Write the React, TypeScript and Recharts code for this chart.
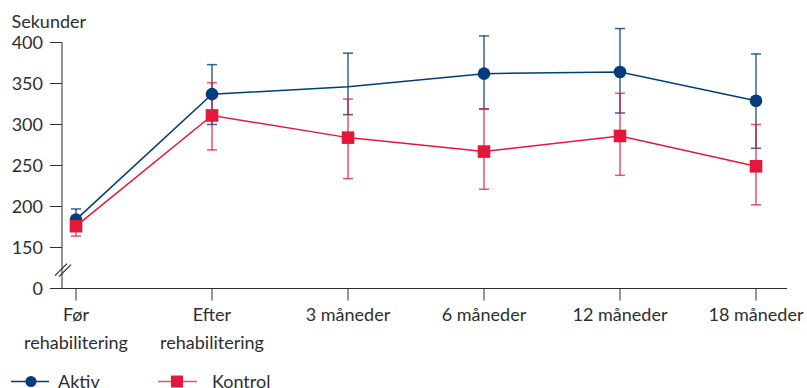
import { LineChart, Line, XAxis, YAxis, ErrorBar, Legend, ReferenceLine } from 'recharts'

const categories = ['Før\nrehabilitering', 'Efter\nrehabilitering', '3 måneder', '6 måneder', '12 måneder', '18 måneder']
const aktiv = [184, 337, 346, 362, 364, 329]
const aktivErr: [number, number][] = [[12, 13], [37, 36], [34, 41], [43, 46], [50, 53], [58, 57]]
const aktivMarker = [true, true, false, true, true, true]
const kontrol = [176, 311, 284, 267, 286, 249]
const kontrolErr: [number, number][] = [[12, 12], [42, 40], [50, 47], [46, 52], [48, 52], [47, 51]]
// the axis is broken: the bottom tick stands for 0 but sits where 100 would be
const yTicks = [100, 150, 200, 250, 300, 350, 400]
const yBreak = 123

const BLUE = '#003d7c'
const RED = '#e2183c'
const INK = '#2e2e2e'
const FONT = 'Lato, sans-serif'

const data = categories.map((label, i) => ({
  label,
  aktiv: aktiv[i],
  aktivErr: aktivErr[i],
  kontrol: kontrol[i],
  kontrolErr: kontrolErr[i],
}))

function XTick({ x, y, payload }: any) {
  const lines = String(payload.value).split('\n')
  return (
    <text x={x} y={y} textAnchor="middle" fill={INK} fontSize={18} fontFamily={FONT}>
      {lines.map((l, i) => (
        <tspan key={i} x={x} dy={i === 0 ? 18.5 : 27.5}>
          {l}
        </tspan>
      ))}
    </text>
  )
}

function AktivDot({ cx, cy, index }: any) {
  if (!aktivMarker[index]) return <g key={`a${index}`} />
  return <circle key={`a${index}`} cx={cx} cy={cy} r={6.3} fill={BLUE} />
}

function KontrolDot({ cx, cy, index }: any) {
  return <rect key={`k${index}`} x={cx - 6.3} y={cy - 6.3} width={12.6} height={12.6} fill={RED} />
}

function BreakMark({ x1, y1 }: any) {
  return (
    <g stroke={INK} strokeWidth={1.2}>
      <line x1={x1 - 7} y1={y1 + 6} x2={x1 + 5} y2={y1 - 6} />
      <line x1={x1 - 3} y1={y1 + 7} x2={x1 + 9} y2={y1 - 5} />
    </g>
  )
}

function LegendBox() {
  return (
    <svg width={807} height={26} style={{ display: 'block' }}>
      <line x1={11} y1={19.5} x2={49} y2={19.5} stroke={BLUE} strokeWidth={1.5} />
      <circle cx={31} cy={19.5} r={5.5} fill={BLUE} />
      <text x={58} y={25.5} fill={INK} fontSize={18} fontFamily={FONT}>Aktiv</text>
      <line x1={158} y1={19.5} x2={197} y2={19.5} stroke={RED} strokeWidth={1.5} strokeOpacity={0.75} />
      <rect x={171} y={13.5} width={12} height={12} fill={RED} />
      <text x={212} y={25.5} fill={INK} fontSize={18} fontFamily={FONT}>Kontrol</text>
    </svg>
  )
}

export default function App() {
  return (
    <div style={{ position: 'absolute', left: 0, top: 0, fontFamily: FONT }}>
      <style>{'.recharts-line [clip-path]{clip-path:none !important}'}</style>
      <LineChart width={807} height={388} data={data} margin={{ top: 42.5, right: 20, bottom: 0, left: 0 }}>
        <XAxis
          dataKey="label"
          interval={0}
          tickSize={12}
          tickMargin={2}
          stroke={INK}
          padding={{ left: 14, right: 31 }}
          tick={<XTick />}
          height={73.5}
        />
        <YAxis
          width={62}
          domain={[100, 400]}
          allowDataOverflow
          ticks={yTicks}
          interval={0}
          tickSize={12}
          tickMargin={7}
          stroke={INK}
          tick={{ fill: INK, fontSize: 18, fontFamily: FONT }}
          tickFormatter={(v: number) => (v === 100 ? '0' : String(v))}
          label={({ viewBox }: any) => (
            <text x={viewBox.x + 11.5} y={viewBox.y - 15} fill={INK} fontSize={18} fontFamily={FONT}>
              Sekunder
            </text>
          )}
        />
        <ReferenceLine y={yBreak} ifOverflow="visible" shape={<BreakMark />} />
        <Legend verticalAlign="bottom" align="left" wrapperStyle={{ left: 0, width: 807 }} content={<LegendBox />} />
        <Line
          dataKey="aktiv"
          name="Aktiv"
          stroke={BLUE}
          strokeWidth={1.5}
          dot={AktivDot}
          activeDot={false}
          isAnimationActive={false}
        >
          <ErrorBar dataKey="aktivErr" direction="y" width={5} stroke={BLUE} strokeOpacity={0.8} strokeWidth={1.5} />
        </Line>
        <Line
          dataKey="kontrol"
          name="Kontrol"
          stroke={RED}
          strokeWidth={1.5}
          dot={KontrolDot}
          activeDot={false}
          isAnimationActive={false}
        >
          <ErrorBar dataKey="kontrolErr" direction="y" width={5} stroke={RED} strokeOpacity={0.75} strokeWidth={1.5} />
        </Line>
      </LineChart>
    </div>
  )
}
